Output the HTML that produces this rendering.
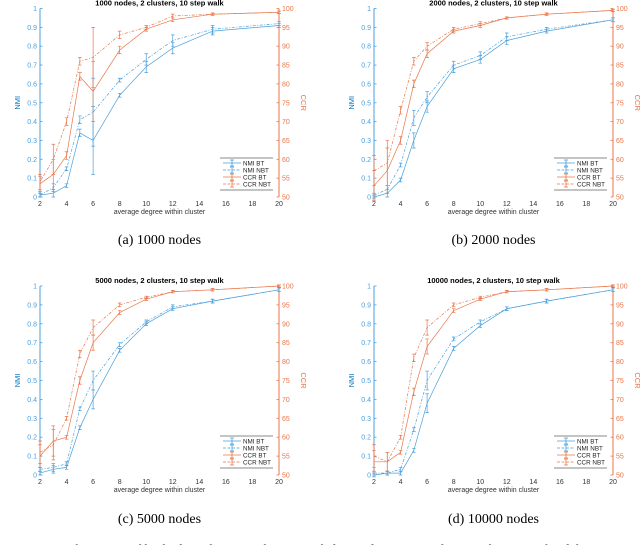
<!DOCTYPE html>
<html><head><meta charset="utf-8">
<style>
html,body{margin:0;padding:0;background:#fff;width:640px;height:545px;overflow:hidden}
svg{display:block}
text{font-family:"Liberation Sans",sans-serif}
.cap{font-family:"Liberation Serif",serif;font-size:14px;fill:#000}
</style></head>
<body>
<svg id="fig" width="640" height="545" viewBox="0 0 640 545"></svg>
<script>
const xCats=[2,3,4,5,6,8,10,12,15,20];
const nmiTicks=[0,0.1,0.2,0.3,0.4,0.5,0.6,0.7,0.8,0.9,1];
const ccrTicks=[50,55,60,65,70,75,80,85,90,95,100];
const xTicks=[2,4,6,8,10,12,14,16,18,20];
const titles=["1000 nodes, 2 clusters, 10 step walk","2000 nodes, 2 clusters, 10 step walk","5000 nodes, 2 clusters, 10 step walk","10000 nodes, 2 clusters, 10 step walk"];
const captions=["(a) 1000 nodes","(b) 2000 nodes","(c) 5000 nodes","(d) 10000 nodes"];
const nmiBT_a=[0.01,0.02,0.06,0.34,0.30,0.54,0.69,0.79,0.88,0.91];
const nmiNBT_a=[0.01,0.05,0.15,0.41,0.45,0.62,0.73,0.83,0.89,0.92];
const ccrBT_a=[53.5,56,61,82,78,89,94.5,97,98.5,99];
const ccrNBT_a=[54,60,70,86,87,93,95,98,98.5,99];
const nmiBT_b=[0.0,0.02,0.09,0.30,0.48,0.68,0.73,0.83,0.88,0.94];
const nmiNBT_b=[0.01,0.04,0.17,0.42,0.53,0.70,0.75,0.85,0.89,0.94];
const ccrBT_b=[53,57,65,80,88,94,95.5,97.5,98.5,99.5];
const ccrNBT_b=[57,59,73,86,90,94.5,96,97.5,98.5,99.5];
const nmiBT_c=[0.01,0.03,0.04,0.25,0.40,0.66,0.80,0.88,0.92,0.98];
const nmiNBT_c=[0.03,0.04,0.06,0.35,0.50,0.69,0.81,0.89,0.92,0.98];
const ccrBT_c=[55,59,60,75,85,93,96.5,98.5,99,100];
const ccrNBT_c=[56,58,65,82,89,95,97,98.5,99,100];
const nmiBT_d=[0.0,0.01,0.01,0.13,0.38,0.67,0.79,0.88,0.92,0.98];
const nmiNBT_d=[0.01,0.01,0.03,0.24,0.50,0.72,0.81,0.88,0.92,0.98];
const ccrBT_d=[53.5,53.5,56,72,84,93.5,96.5,98.5,99,100];
const ccrNBT_d=[55,53.5,60,81,89,95,97,98.5,99,100];
const nmiErr_a=[0.01,0.02,0.01,0.02,0.18,0.01,0.03,0.03,0.02,0.01];
const ccrErr_a=[2,4,1,1,8,1,0.5,0.5,0.3,0.3];
const nmiErr_b=[0.01,0.02,0.01,0.04,0.03,0.02,0.02,0.02,0.01,0.01];
const ccrErr_b=[4,6,1,1,1,0.5,0.5,0.3,0.3,0.3];
const nmiErr_c=[0.01,0.02,0.01,0.01,0.05,0.01,0.01,0.01,0.01,0.01];
const ccrErr_c=[3,4,0.5,1,2,0.5,0.3,0.3,0.3,0.3];
const nmiErr_d=[0.01,0.01,0.01,0.01,0.05,0.01,0.01,0.01,0.01,0.01];
const ccrErr_d=[3,2.5,0.5,1,2,0.5,0.3,0.3,0.3,0.3];
const panels=[
 {x0:40,x1:279,y0:197,y1:8.5,nb:nmiBT_a,nn:nmiNBT_a,cb:ccrBT_a,cn:ccrNBT_a,ne:nmiErr_a,ce:ccrErr_a},
 {x0:374,x1:613,y0:197,y1:8.5,nb:nmiBT_b,nn:nmiNBT_b,cb:ccrBT_b,cn:ccrNBT_b,ne:nmiErr_b,ce:ccrErr_b},
 {x0:40,x1:279,y0:475,y1:286,nb:nmiBT_c,nn:nmiNBT_c,cb:ccrBT_c,cn:ccrNBT_c,ne:nmiErr_c,ce:ccrErr_c},
 {x0:374,x1:613,y0:475,y1:286,nb:nmiBT_d,nn:nmiNBT_d,cb:ccrBT_d,cn:ccrNBT_d,ne:nmiErr_d,ce:ccrErr_d}
];
const BLUE="#4a9fdc",BLUE2="#0072bd",OR="#e8764a";
const NS="http://www.w3.org/2000/svg";
const fig=document.getElementById('fig');
function mk(tag,attrs,parent){const e=document.createElementNS(NS,tag);for(const k in attrs)e.setAttribute(k,attrs[k]);(parent||fig).appendChild(e);return e;}
panels.forEach((p,i)=>{
  const g=mk('g',{});
  
  
  const sx=v=>p.x0+(v-2)/18*(p.x1-p.x0);
  const sy=v=>p.y0+v*(p.y1-p.y0);
  const sc=v=>p.y0+(v-50)/50*(p.y1-p.y0);
  const cx=(p.x0+p.x1)/2;
  const t=mk('text',{x:cx,y:p.y1-3,'text-anchor':'middle','font-size':'7.5','font-weight':'bold',fill:'#000'},g);t.textContent=titles[i];
  
  const la=mk('line',{x1:p.x0,y1:p.y0,x2:p.x0,y2:p.y1,stroke:BLUE,'stroke-width':'1'},g);
  
  const ra=mk('line',{x1:p.x1,y1:p.y0,x2:p.x1,y2:p.y1,stroke:OR,'stroke-width':'1'},g);
  
  nmiTicks.forEach(v=>{const y=sy(v);mk('line',{x1:p.x0,y1:y,x2:p.x0+2.5,y2:y,stroke:BLUE,'stroke-width':'.8'},g);
    const tt=mk('text',{x:p.x0-3,y:y+2.5,'text-anchor':'end','font-size':'7',fill:BLUE},g);tt.textContent=v;
    });
  ccrTicks.forEach(v=>{const y=sc(v);mk('line',{x1:p.x1-2.5,y1:y,x2:p.x1,y2:y,stroke:OR,'stroke-width':'.8'},g);
    const tt=mk('text',{x:p.x1+3,y:y+2.5,'font-size':'7',fill:OR},g);tt.textContent=v;
    });
  xTicks.forEach(v=>{const tt=mk('text',{x:sx(v),y:p.y0+9,'text-anchor':'middle','font-size':'7',fill:'#333'},g);tt.textContent=v;
    });
  const xl=mk('text',{x:cx,y:p.y0+17,'text-anchor':'middle','font-size':'7',fill:'#333'},g);xl.textContent='average degree within cluster';
  
  const yl=mk('text',{x:0,y:0,'text-anchor':'middle','font-size':'7.5',fill:BLUE2,transform:`translate(${p.x0-20},${(p.y0+p.y1)/2}) rotate(-90)`},g);yl.textContent='NMI';
  
  const yr=mk('text',{x:0,y:0,'text-anchor':'middle','font-size':'7.5',fill:OR,transform:`translate(${p.x1+22},${(p.y0+p.y1)/2}) rotate(90)`},g);yr.textContent='CCR';
  
  const series=[
    {d:p.nb,f:sy,c:BLUE,dash:'',e:p.ne,name:'nmi-bt-line'},
    {d:p.nn,f:sy,c:BLUE,dash:'3,1.5,1,1.5',e:p.ne,name:'nmi-nbt-line'},
    {d:p.cb,f:sc,c:OR,dash:'',e:p.ce,name:'ccr-bt-line'},
    {d:p.cn,f:sc,c:OR,dash:'3,1.5,1,1.5',e:p.ce,name:'ccr-nbt-line'}];
  series.forEach(s=>{
    const pts=s.d.map((v,k)=>sx(xCats[k]).toFixed(1)+','+s.f(v).toFixed(1)).join(' ');
    const pl=mk('polyline',{points:pts,fill:'none',stroke:s.c,'stroke-width':'.7','stroke-dasharray':s.dash},g);
    
    s.d.forEach((v,k)=>{const x=sx(xCats[k]);const ya=s.f(v-s.e[k]),yb=s.f(v+s.e[k]);
      const eb=mk('path',{d:`M${x},${ya}V${yb}M${x-1.8},${ya}H${x+1.8}M${x-1.8},${yb}H${x+1.8}`,stroke:s.c,'stroke-width':'.7',fill:'none'},g);
      });
  });
  const lx=p.x1-59,ly=p.y0-39;
  const lg=mk('g',{},g);
  mk('line',{x1:lx,y1:ly,x2:p.x1-6,y2:ly,stroke:'#888','stroke-width':'1'},lg);
  mk('line',{x1:lx,y1:ly+32,x2:p.x1-6,y2:ly+32,stroke:'#888','stroke-width':'1'},lg);
  ['NMI BT','NMI NBT','CCR BT','CCR NBT'].forEach((n,k)=>{const yy=ly+5+k*7;const c=k<2?BLUE:OR;
    mk('line',{x1:lx+3,y1:yy,x2:lx+21,y2:yy,stroke:c,'stroke-width':'.8','stroke-dasharray':k%2?'3,1.5':''},lg);
    mk('path',{d:`M${lx+12},${yy-3}V${yy+3}M${lx+10},${yy-3}H${lx+14}M${lx+10},${yy+3}H${lx+14}`,stroke:c,'stroke-width':'.8'},lg);
    const tt=mk('text',{x:lx+23,y:yy+2.3,'font-size':'6.3',fill:'#222'},lg);tt.textContent=n;
    });
  const cp=mk('text',{x:cx,y:p.y0+(i<2?47:48),'text-anchor':'middle',class:'cap'});cp.textContent=captions[i];
  
});
const fc=mk('text',{x:0,y:554,class:'cap'});fc.textContent='Figure 4: Performance of both algorithms as a function of cluster density. We show performance for dif';

</script>
</body></html>
